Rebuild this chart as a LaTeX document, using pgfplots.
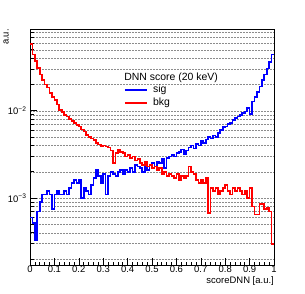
\documentclass[border=0pt]{standalone}
\usepackage{fontspec}
\setmainfont{Liberation Sans}
\usepackage{pgfplots}
\usepackage{pgfplotstable}
\pgfplotsset{compat=1.18}
\pgfplotstableread{
x sig bkg
0.00 0.00060 0.058
0.01 0.00052 0.044
0.02 0.00033 0.037
0.03 0.00070 0.031
0.04 0.00090 0.026
0.05 0.00110 0.0225
0.06 0.00110 0.0200
0.07 0.00120 0.0185
0.08 0.00110 0.0160
0.09 0.00075 0.0145
0.10 0.00110 0.0133
0.11 0.00120 0.0118
0.12 0.00110 0.0102
0.13 0.00110 0.0097
0.14 0.00120 0.0090
0.15 0.00110 0.0086
0.16 0.00130 0.0080
0.17 0.00150 0.0077
0.18 0.00160 0.0073
0.19 0.00150 0.0069
0.20 0.00160 0.0066
0.21 0.00100 0.0061
0.22 0.00130 0.0058
0.23 0.00120 0.0053
0.24 0.00110 0.0050
0.25 0.00140 0.0048
0.26 0.00170 0.0046
0.27 0.00210 0.0043
0.28 0.00180 0.0041
0.29 0.00150 0.0039
0.30 0.00190 0.0040
0.31 0.00110 0.0039
0.32 0.00180 0.0038
0.33 0.00200 0.0035
0.34 0.00190 0.0025
0.35 0.00180 0.0033
0.36 0.00200 0.0036
0.37 0.00210 0.0034
0.38 0.00190 0.0033
0.39 0.00210 0.0030
0.40 0.00200 0.0031
0.41 0.00220 0.0029
0.42 0.00200 0.0030
0.43 0.00240 0.0027
0.44 0.00230 0.0028
0.45 0.00220 0.0025
0.46 0.00200 0.0024
0.47 0.00230 0.0026
0.48 0.00210 0.0023
0.49 0.00240 0.0024
0.50 0.00250 0.0022
0.51 0.00230 0.0023
0.52 0.00260 0.0021
0.53 0.00250 0.0022
0.54 0.00280 0.0019
0.55 0.00220 0.0020
0.56 0.00290 0.0018
0.57 0.00300 0.0019
0.58 0.00310 0.0018
0.59 0.00300 0.0017
0.60 0.00330 0.0019
0.61 0.00340 0.0016
0.62 0.00360 0.0018
0.63 0.00320 0.0017
0.64 0.00350 0.0018
0.65 0.00380 0.0023
0.66 0.00400 0.0020
0.67 0.00370 0.0019
0.68 0.00420 0.0016
0.69 0.00400 0.0015
0.70 0.00450 0.0016
0.71 0.00430 0.0015
0.72 0.00470 0.0017
0.73 0.00500 0.00068
0.74 0.00480 0.0013
0.75 0.00520 0.0012
0.76 0.00500 0.0013
0.77 0.00560 0.0011
0.78 0.00600 0.0012
0.79 0.00650 0.0013
0.80 0.00660 0.0014
0.81 0.00700 0.0012
0.82 0.00720 0.0011
0.83 0.00780 0.0013
0.84 0.00820 0.0012
0.85 0.00860 0.0013
0.86 0.00900 0.0012
0.87 0.00950 0.0011
0.88 0.00980 0.0012
0.89 0.01080 0.0010
0.90 0.00920 0.0013
0.91 0.01280 0.0008
0.92 0.01450 0.00065
0.93 0.01650 0.00065
0.94 0.01900 0.00085
0.95 0.02250 0.00085
0.96 0.02600 0.00075
0.97 0.03050 0.00078
0.98 0.03650 0.00070
0.99 0.04400 0.00030
1.00 0.04400 0.00030
}\histdata
\begin{document}
\begin{tikzpicture}
\begin{axis}[
  scale only axis, width=244bp, height=236bp,
  xmin=0, xmax=1, ymode=log, ymin=1.71e-4, ymax=0.0865,
  axis line style={line width=0.8bp, black},
  tick align=inside, xtick pos=bottom, ytick pos=left,
  xtick={0,0.1,0.2,0.3,0.4,0.5,0.6,0.7,0.8,0.9,1},
  xticklabels={0,0.1,0.2,0.3,0.4,0.5,0.6,0.7,0.8,0.9,1},
  minor x tick num=4,
  ytick={1e-3,1e-2},
  yticklabels={10\textsuperscript{−3},10\textsuperscript{−2}},
  minor ytick={2e-4,3e-4,4e-4,5e-4,6e-4,7e-4,8e-4,9e-4,2e-3,3e-3,4e-3,5e-3,6e-3,7e-3,8e-3,9e-3,2e-2,3e-2,4e-2,5e-2,6e-2,7e-2,8e-2},
  ymajorgrids, yminorgrids,
  major grid style={black!45, line width=0.5bp, dash pattern=on 2bp off 1bp},
  minor grid style={black!45, line width=0.5bp, dash pattern=on 2bp off 1bp},
  major tick length=7bp, minor tick length=3.5bp,
  tick style={black, line width=0.6bp},
  ticklabel style={font=\fontsize{9.5}{11}\selectfont},
  xticklabel style={inner sep=1bp},
  xlabel={scoreDNN [a.u.]},
  ylabel={a.u.},
  label style={font=\fontsize{9.5}{11}\selectfont},
  xlabel style={at={(axis description cs:1,-0.05)}, anchor=north east, inner sep=0pt},
  ylabel style={at={(axis description cs:-0.086,1)}, anchor=south east, inner sep=0pt},
]
\addplot[const plot, blue, line width=1.7bp] table[x=x,y=sig]{\histdata};
\addplot[const plot, red, line width=1.7bp] table[x=x,y=bkg]{\histdata};
% legend
\node[anchor=west, inner sep=0pt, font=\fontsize{10.5}{12}\selectfont] at (axis description cs:0.386,0.792) {DNN score (20 keV)};
\draw[blue, line width=1.7bp] (axis description cs:0.389,0.7415) -- (axis description cs:0.479,0.7415);
\node[anchor=west, inner sep=0pt, font=\fontsize{10.5}{12}\selectfont] at (axis description cs:0.504,0.7415) {sig};
\draw[red, line width=1.7bp] (axis description cs:0.389,0.6864) -- (axis description cs:0.479,0.6864);
\node[anchor=west, inner sep=0pt, font=\fontsize{10.5}{12}\selectfont] at (axis description cs:0.504,0.6864) {bkg};
\end{axis}
\useasboundingbox ([xshift=-30bp,yshift=-29bp]current axis.south west) rectangle ([xshift=31bp,yshift=29bp]current axis.north east);
\end{tikzpicture}
\end{document}
